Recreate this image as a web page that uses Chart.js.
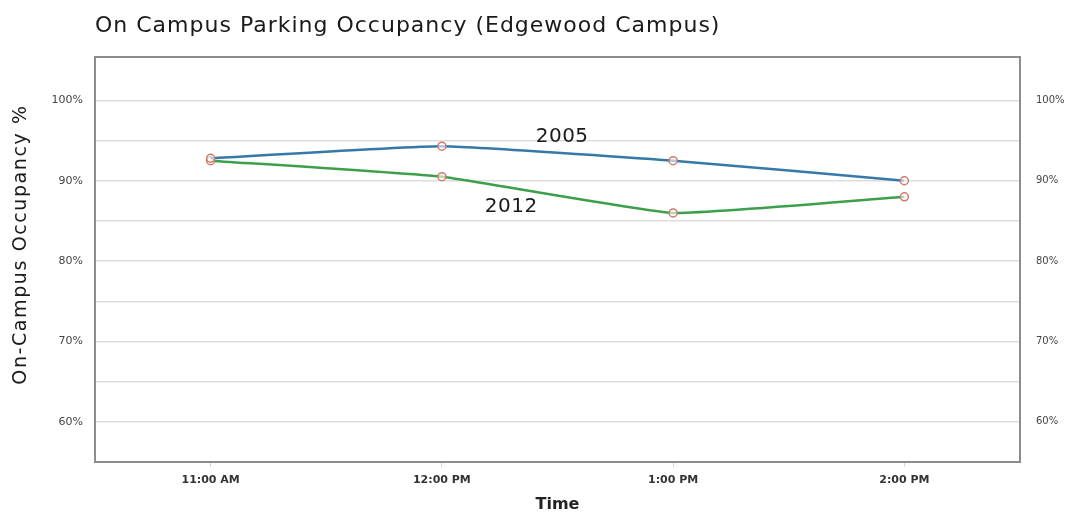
<!DOCTYPE html>
<html>
<head>
<meta charset="utf-8">
<script src="https://cdn.jsdelivr.net/npm/chart.js@4"></script>
<style>
  html, body { margin: 0; padding: 0; background: #fff; }
  #wrap { width: 1067px; height: 518px; }
</style>
</head>
<body>
<div id="wrap"><canvas id="parkingChart" width="1067" height="518"></canvas></div>
<script>
// Data
var times = ["11:00 AM", "12:00 PM", "1:00 PM", "2:00 PM"];
var occ2005 = [92.8, 94.3, 92.5, 90.0];
var occ2012 = [92.5, 90.5, 86.0, 88.0];
var seriesNames = ["2005", "2012"];
// where the series names sit (category index, percent)
var nameSpots = [[1.52, 95.5], [1.3, 86.7]];

var FONT = "'DejaVu Sans', sans-serif";

// box + titles + series names
var extras = {
  id: "extras",
  afterDraw: function(chart) {
    var ctx = chart.ctx;
    var a = chart.chartArea;
    ctx.save();
    ctx.strokeStyle = "#8c8c8c";
    ctx.lineWidth = 2;
    ctx.strokeRect(a.left, a.top, a.right - a.left, a.bottom - a.top);

    ctx.fillStyle = "#1a1a1a";
    ctx.font = "22px " + FONT;
    ctx.letterSpacing = "1px";
    ctx.textAlign = "left";
    ctx.textBaseline = "middle";
    ctx.fillText("On Campus Parking Occupancy (Edgewood Campus)", 95, 26);

    // y axis title
    ctx.save();
    ctx.translate(21, (a.top + a.bottom) / 2 - 15);
    ctx.rotate(-Math.PI / 2);
    ctx.textAlign = "center";
    ctx.font = "19px " + FONT;
    ctx.letterSpacing = "1.6px";
    ctx.fillText("On-Campus Occupancy %", 0, 0);
    ctx.restore();

    ctx.font = "20px " + FONT;
    ctx.letterSpacing = "0.5px";
    ctx.textAlign = "center";
    var xs = chart.scales.x, ys = chart.scales.y;
    for (var i = 0; i < seriesNames.length; i++) {
      ctx.fillText(seriesNames[i], xs.getPixelForValue(nameSpots[i][0]), ys.getPixelForValue(nameSpots[i][1]));
    }
    ctx.restore();
  }
};

function pctTick(v) {
  return v % 10 === 0 ? v + "%" : "";
}

var ctx = document.getElementById("parkingChart");
var chart = new Chart(ctx, {
  type: "line",
  data: {
    labels: times,
    datasets: [
      {
        label: "2005",
        data: occ2005,
        borderColor: "#3679a8",
        borderWidth: 2.5,
        pointRadius: 4,
        pointBorderWidth: 1.5,
        pointBorderColor: "#d27a6c",
        pointBackgroundColor: "rgba(255,255,255,0.6)",
        tension: 0.12
      },
      {
        label: "2012",
        data: occ2012,
        borderColor: "#3d9f4c",
        borderWidth: 2.5,
        pointRadius: 4,
        pointBorderWidth: 1.5,
        pointBorderColor: "#d27a6c",
        pointBackgroundColor: "rgba(255,255,255,0.6)",
        tension: 0.12
      }
    ]
  },
  options: {
    responsive: false,
    animation: false,
    layout: { padding: { top: 57, left: 0, right: 0, bottom: 0 } },
    plugins: {
      legend: { display: false },
      tooltip: { enabled: false }
    },
    scales: {
      x: {
        offset: true,
        grid: { display: true, drawOnChartArea: false, tickLength: 5, color: "#d8d8d8" },
        border: { display: false },
        ticks: { color: "#333", font: { family: FONT, size: 11, weight: "bold" }, padding: 7 },
        title: { display: true, text: "Time", color: "#222", font: { family: FONT, size: 16, weight: "bold" }, padding: { top: 9 } },
        afterFit: function(s) { s.height = 56; }
      },
      y: {
        min: 55,
        max: 105.4,
        grid: { color: "#dedede", lineWidth: 1.5, drawTicks: false },
        border: { display: false },
        ticks: { stepSize: 5, callback: pctTick, color: "#444", font: { family: FONT, size: 11 }, padding: 12 },
        afterFit: function(s) { s.width = 95; }
      },
      y2: {
        position: "right",
        min: 55,
        max: 105.4,
        grid: { display: false },
        border: { display: false },
        ticks: { stepSize: 5, callback: pctTick, color: "#444", font: { family: FONT, size: 10 }, padding: 8 },
        afterFit: function(s) { s.width = 47; }
      }
    }
  },
  plugins: [extras]
});
</script>
</body>
</html>
